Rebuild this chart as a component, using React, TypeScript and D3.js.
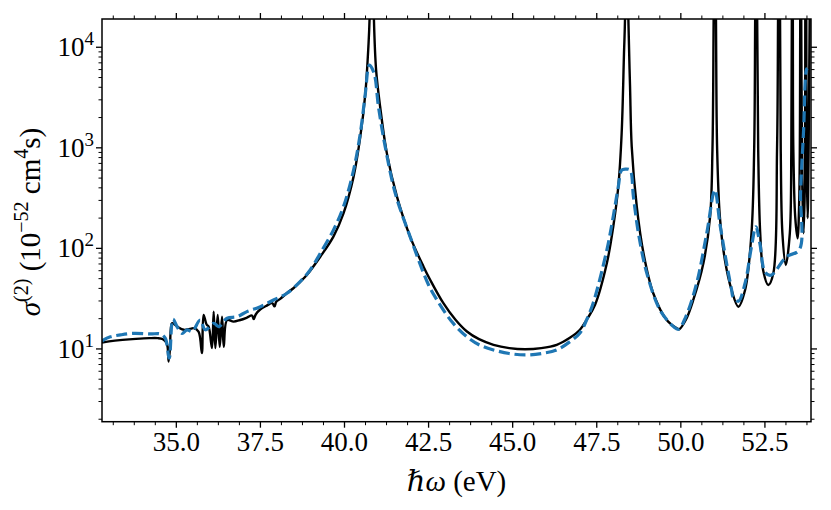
import React from 'react';
import * as d3 from 'd3';

// photon energy (eV) vs two-photon cross section (10^-52 cm^4 s)
const fullCurve: [number, number][] = [
  [32.79, 11.6], [33.0, 11.9], [33.4, 12.3], [33.8, 12.6], [34.2, 12.8], [34.45, 12.8],
  [34.6, 12.5], [34.7, 11.6], [34.74, 10.5], [34.77, 7.5], [34.81, 10.0], [34.87, 18.0],
  [34.95, 17.5], [35.05, 16.5], [35.22, 15.5], [35.4, 15.8], [35.51, 16.1], [35.66, 14.9],
  [35.76, 9.1], [35.81, 21.8], [35.9, 17.5], [35.96, 16.7], [36.06, 10.2], [36.11, 23.5],
  [36.16, 10.2], [36.23, 21.8], [36.29, 10.5], [36.36, 20.9], [36.41, 10.5], [36.51, 19.4],
  [36.7, 18.7], [36.9, 19.4], [37.1, 20.5], [37.25, 21.5], [37.3, 19.8], [37.36, 22.0],
  [37.5, 24.8], [37.69, 27.0], [37.85, 28.5], [37.92, 26.5], [37.97, 29.5], [38.09, 31.5],
  [38.29, 36.0], [38.48, 40.1], [38.68, 46.5], [38.88, 54.4], [39.28, 82.6], [39.67, 131],
  [39.97, 223], [40.27, 517], [40.47, 1290], [40.62, 3480], [40.71, 10100], [40.745, 19000],
  [40.81, 1e6], [40.875, 19000], [40.94, 5930], [41.06, 2560], [41.26, 881], [41.56, 327],
  [41.95, 131], [42.35, 65.8], [42.55, 48.5], [42.94, 28.5], [43.3, 19.5], [43.64, 14.9],
  [44.0, 12.5], [44.43, 11.0], [44.9, 10.2], [45.37, 9.93], [45.85, 10.2], [46.31, 11.0],
  [46.7, 12.9], [47.0, 15.5], [47.2, 19.5], [47.45, 27.5], [47.8, 71.1], [47.99, 164],
  [48.14, 410], [48.24, 1390], [48.31, 8690], [48.34, 19000], [48.39, 1e6], [48.44, 19000],
  [48.49, 4050], [48.54, 1026], [48.69, 260], [48.89, 89.3], [49.18, 35.8], [49.58, 19.4],
  [49.88, 16.1], [49.95, 15.7], [50.15, 19.5], [50.37, 30.7], [50.67, 71.1], [50.87, 207],
  [50.94, 951], [50.975, 19000], [51.01, 1e6], [51.045, 19000], [51.08, 951], [51.16, 207],
  [51.31, 76.7], [51.51, 38.5], [51.71, 26.3], [51.91, 38.5], [52.1, 141], [52.18, 951],
  [52.21, 19000], [52.24, 1e6], [52.27, 19000], [52.3, 951], [52.36, 141], [52.45, 60],
  [52.6, 43.2], [52.75, 56.5], [52.86, 951], [52.89, 19000], [52.92, 1e6], [52.95, 19000],
  [52.97, 951], [53.02, 141], [53.12, 68.4], [53.24, 141], [53.285, 951], [53.3, 19000],
  [53.315, 1e6], [53.33, 19000], [53.345, 951], [53.4, 207], [53.47, 126], [53.52, 303],
  [53.55, 19000], [53.565, 1e6], [53.58, 19000], [53.61, 444], [53.65, 141], [53.69, 500],
  [53.7, 19000], [53.715, 1e6], [53.73, 19000], [53.745, 600], [53.77, 200], [53.8, 1000],
  [53.83, 19000], [53.85, 1e6],
];

const approxCurve: [number, number][] = [
  [32.79, 11.9], [32.84, 12.3], [33.04, 13.2], [33.34, 13.8], [33.73, 14.3], [34.23, 14.1],
  [34.52, 14.1], [34.67, 12.8], [34.79, 8.1], [34.9, 19.7], [35.02, 16.7], [35.17, 14.3],
  [35.32, 15.5], [35.47, 14.9], [35.71, 19.4], [35.86, 15.5], [36.11, 18.0], [36.26, 16.7],
  [36.51, 20.2], [36.8, 20.9], [37.1, 23.5], [37.5, 26.3], [37.89, 30.7], [38.29, 35.8],
  [38.68, 46.7], [38.98, 61.0], [39.28, 89.3], [39.67, 152], [39.97, 260], [40.27, 601],
  [40.47, 1390], [40.62, 3480], [40.74, 6650], [40.88, 5510], [41.01, 2560], [41.21, 1026],
  [41.51, 353], [41.95, 131], [42.5, 43.2], [42.75, 30.7], [43.2, 18.5], [43.64, 13.2],
  [44.0, 11.0], [44.43, 9.77], [44.9, 9.0], [45.37, 8.71], [45.85, 9.0], [46.31, 9.77],
  [46.7, 11.8], [47.0, 14.4], [47.2, 19.5], [47.4, 29], [47.8, 96.4], [47.99, 207],
  [48.14, 410], [48.24, 601], [48.36, 615], [48.49, 601], [48.59, 327], [48.74, 141],
  [48.99, 56.5], [49.38, 24.4], [49.78, 16.7], [49.93, 15.7], [50.15, 21], [50.47, 45.0],
  [50.77, 141], [51.01, 381], [51.16, 177], [51.36, 71.1], [51.51, 38.5], [51.55, 33.1],
  [51.71, 29.8], [51.91, 45.0], [52.1, 104], [52.23, 164], [52.35, 112], [52.5, 58.2],
  [52.65, 54], [52.75, 56], [53.14, 82.6], [53.52, 96.4], [53.56, 363], [53.65, 1500],
  [53.73, 5930], [53.76, 6200],
];

const xDomain: [number, number] = [32.79, 53.87];
const yDomain: [number, number] = [1.89, 1.91e4];
const xMajorTicks = [35, 37.5, 40, 42.5, 45, 47.5, 50, 52.5];
const yMajorTicks = [10, 100, 1000, 10000];
const yExponents = ['1', '2', '3', '4'];

const W = 831;
const H = 510;
const M = { left: 102, top: 19, right: 811, bottom: 421.7 };
const FONT = "'Liberation Serif', 'DejaVu Serif', serif";

export default function App() {
  const x = d3.scaleLinear().domain(xDomain).range([M.left, M.right]);
  const y = d3.scaleLog().domain(yDomain).range([M.bottom, M.top]);

  const line = d3.line<[number, number]>()
    .x(d => x(d[0]))
    .y(d => y(d[1]))
    .curve(d3.curveCatmullRom.alpha(0.5));

  // minor ticks: quarter steps between majors on x, 2..9 per decade on y
  const xMinor = d3.range(-8, 40).map(i => 35 + i * 0.625)
    .filter(v => v >= xDomain[0] && v <= xDomain[1] && Math.abs((v - 35) % 2.5) > 1e-6);
  const yMinor: number[] = [];
  [1, 10, 100, 1000, 10000].forEach(dec => {
    for (let k = 2; k <= 9; k++) {
      const v = dec * k;
      if (v >= yDomain[0] && v <= yDomain[1]) yMinor.push(v);
    }
  });

  const majLen = 6;
  const minLen = 3.5;

  return (
    <svg width={W} height={H} style={{ position: 'absolute', left: 0, top: 0, display: 'block', background: '#fff' }}
      fontFamily={FONT}>
      <defs>
        <clipPath id="plotClip">
          <rect x={M.left} y={M.top} width={M.right - M.left} height={M.bottom - M.top} />
        </clipPath>
      </defs>

      <g clipPath="url(#plotClip)" fill="none">
        <path d={line(fullCurve) || ''} stroke="#000" strokeWidth={2.4} strokeLinejoin="round" />
        <path d={line(approxCurve) || ''} stroke="#1f77b4" strokeWidth={3.2} strokeDasharray="11,4.8" />
      </g>

      {/* ticks on all four sides, pointing out */}
      <g stroke="#000">
        {xMajorTicks.map(t => (
          <g key={'xM' + t}>
            <line x1={x(t)} x2={x(t)} y1={M.bottom} y2={M.bottom + majLen} strokeWidth={1.3} />
            <line x1={x(t)} x2={x(t)} y1={M.top} y2={M.top - majLen} strokeWidth={1.3} />
          </g>
        ))}
        {xMinor.map(t => (
          <g key={'xm' + t}>
            <line x1={x(t)} x2={x(t)} y1={M.bottom} y2={M.bottom + minLen} strokeWidth={1} />
            <line x1={x(t)} x2={x(t)} y1={M.top} y2={M.top - minLen} strokeWidth={1} />
          </g>
        ))}
        {yMajorTicks.map(t => (
          <g key={'yM' + t}>
            <line x1={M.left} x2={M.left - majLen} y1={y(t)} y2={y(t)} strokeWidth={1.3} />
            <line x1={M.right} x2={M.right + majLen} y1={y(t)} y2={y(t)} strokeWidth={1.3} />
          </g>
        ))}
        {yMinor.map(t => (
          <g key={'ym' + t}>
            <line x1={M.left} x2={M.left - minLen} y1={y(t)} y2={y(t)} strokeWidth={1} />
            <line x1={M.right} x2={M.right + minLen} y1={y(t)} y2={y(t)} strokeWidth={1} />
          </g>
        ))}
      </g>

      <rect x={M.left} y={M.top} width={M.right - M.left} height={M.bottom - M.top}
        fill="none" stroke="#000" strokeWidth={1.5} />

      {/* tick labels */}
      {xMajorTicks.map(t => (
        <text key={'xl' + t} x={x(t)} y={M.bottom + 29} textAnchor="middle" fontSize={27} fill="#000">
          {t.toFixed(1)}
        </text>
      ))}
      {yMajorTicks.map((t, i) => (
        <text key={'yl' + t} x={M.left - 8} y={y(t) + 9} textAnchor="end" fontSize={27} fill="#000">
          <tspan>10</tspan>
          <tspan dy={-11} fontSize={19}>{yExponents[i]}</tspan>
        </text>
      ))}

      {/* axis titles */}
      <text x={(M.left + M.right) / 2} y={491} textAnchor="middle" fontSize={29} fill="#000">
        <tspan fontStyle="italic">ℏω</tspan>
        <tspan> (eV)</tspan>
      </text>
      <text transform={`translate(40,222) rotate(-90)`} textAnchor="middle" fontSize={29} fill="#000">
        <tspan fontStyle="italic">σ</tspan>
        <tspan dy={-12} fontSize={20}>(2)</tspan>
        <tspan dy={12}> (10</tspan>
        <tspan dy={-12} fontSize={20}>−52</tspan>
        <tspan dy={12}> cm</tspan>
        <tspan dy={-12} fontSize={20}>4</tspan>
        <tspan dy={12}>s)</tspan>
      </text>
    </svg>
  );
}
